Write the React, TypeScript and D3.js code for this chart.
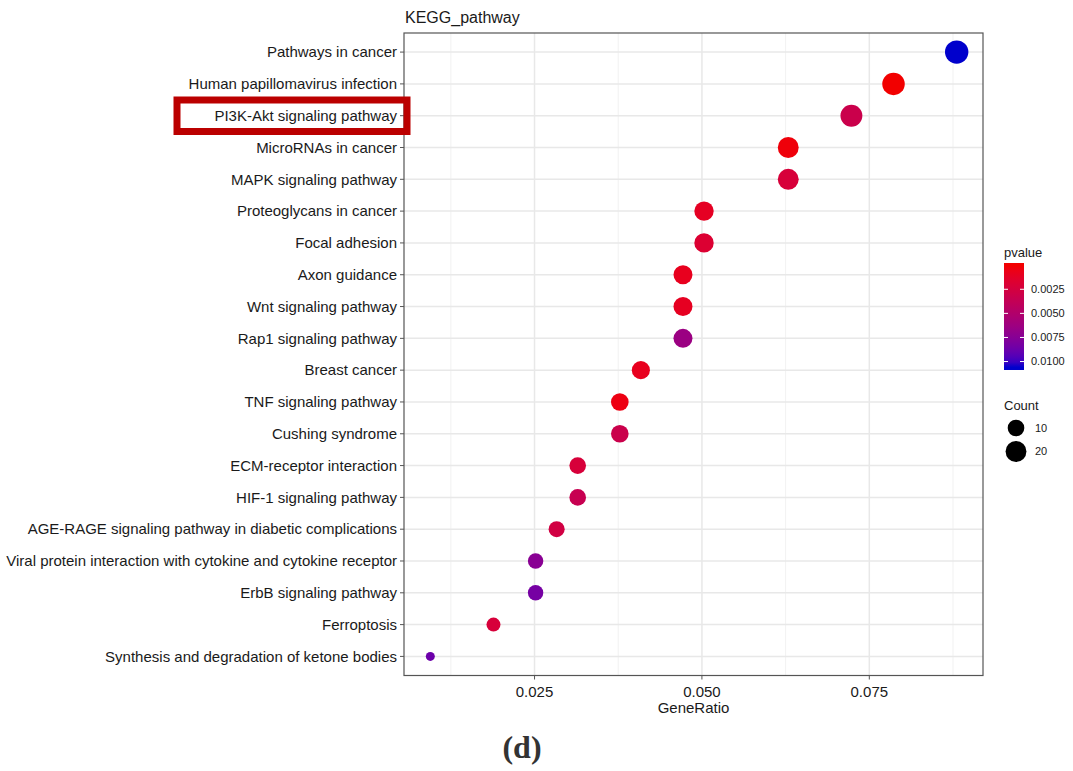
import React from 'react';
import * as d3 from 'd3';

// KEGG enrichment results (top to bottom as drawn)
const pathways = [
  'Pathways in cancer',
  'Human papillomavirus infection',
  'PI3K-Akt signaling pathway',
  'MicroRNAs in cancer',
  'MAPK signaling pathway',
  'Proteoglycans in cancer',
  'Focal adhesion',
  'Axon guidance',
  'Wnt signaling pathway',
  'Rap1 signaling pathway',
  'Breast cancer',
  'TNF signaling pathway',
  'Cushing syndrome',
  'ECM-receptor interaction',
  'HIF-1 signaling pathway',
  'AGE-RAGE signaling pathway in diabetic complications',
  'Viral protein interaction with cytokine and cytokine receptor',
  'ErbB signaling pathway',
  'Ferroptosis',
  'Synthesis and degradation of ketone bodies',
];
const counts = [28, 25, 23, 20, 20, 16, 16, 15, 15, 15, 13, 12, 12, 10, 10, 9, 8, 8, 6, 3];
const pvalues = [
  0.0106, 0.00005, 0.0032, 0.00026, 0.0022, 0.0011, 0.0018, 0.00089, 0.001, 0.0064,
  0.00089, 0.00047, 0.0032, 0.0022, 0.0035, 0.0027, 0.0074, 0.0083, 0.0022, 0.0087,
];
const totalGenes = 318;

const xTicks = [0.025, 0.05, 0.075];
const xMinorTicks = [0.0125, 0.0375, 0.0625, 0.0875];
const pTicks = [0.0025, 0.005, 0.0075, 0.01];
const countBreaks = [10, 20];

const W = 1073;
const H = 771;
const panel = { left: 404, right: 983, top: 33, bottom: 675.5 };

const App = () => {
  const ratios = counts.map(c => c / totalGenes);
  const [rMin, rMax] = d3.extent(ratios) as [number, number];
  const pad = (rMax - rMin) * 0.05;

  const x = d3.scaleLinear().domain([rMin - pad, rMax + pad]).range([panel.left, panel.right]);
  const y = d3.scalePoint<string>().domain(pathways).range([panel.top, panel.bottom]).padding(0.6);

  const [cMin, cMax] = d3.extent(counts) as [number, number];
  const sizeArea = d3.scaleLinear().domain([0, 1]).range([4.5, 11.7]);
  const radius = (c: number) => sizeArea(Math.sqrt((c - cMin) / (cMax - cMin)));

  const [pMin, pMax] = d3.extent(pvalues) as [number, number];
  const color = d3.scaleLinear<string>()
    .domain([pMin, pMax])
    .range(['#f20000', '#0000cc'])
    .interpolate(d3.interpolateLab);

  // colour bar
  const bar = { x: 1004, w: 20, top: 263, bottom: 370 };
  const half = (bar.bottom - bar.top) / 40;
  const yBar = d3.scaleLinear().domain([pMin, pMax]).range([bar.top + half, bar.bottom - half]);
  const stops = d3.range(0, 21).map(i => {
    const p = pMin + (pMax - pMin) * i / 20;
    return { offset: (yBar(p) - bar.top) / (bar.bottom - bar.top), color: color(p) };
  });

  const font = '"Liberation Sans", Arial, Helvetica, sans-serif';
  const textColor = '#1a1a1a';

  return (
    <div style={{ position: 'absolute', left: 0, top: 0 }}>
      <svg width={W} height={H} style={{ display: 'block', fontFamily: font }}>
        <rect width={W} height={H} fill="white" />
        <defs>
          <linearGradient id="pgrad" x1="0" y1="0" x2="0" y2="1">
            {stops.map((s, i) => (
              <stop key={i} offset={s.offset} stopColor={s.color} />
            ))}
          </linearGradient>
        </defs>

        {/* panel grid */}
        {xMinorTicks.map(t => (
          <line key={'mn' + t} x1={x(t)} x2={x(t)} y1={panel.top} y2={panel.bottom}
            stroke="#ededed" strokeWidth={0.8} />
        ))}
        {xTicks.map(t => (
          <line key={'mj' + t} x1={x(t)} x2={x(t)} y1={panel.top} y2={panel.bottom}
            stroke="#e8e8e8" strokeWidth={1.5} />
        ))}
        {pathways.map(p => (
          <line key={'gy' + p} x1={panel.left} x2={panel.right} y1={y(p)} y2={y(p)}
            stroke="#e8e8e8" strokeWidth={1.5} />
        ))}

        {/* points */}
        {pathways.map((p, i) => (
          <circle key={'pt' + p} cx={x(ratios[i])} cy={y(p)} r={radius(counts[i])}
            fill={color(pvalues[i])} />
        ))}

        <rect x={panel.left} y={panel.top} width={panel.right - panel.left}
          height={panel.bottom - panel.top} fill="none" stroke="#555" strokeWidth={1.2} />

        {/* y axis */}
        {pathways.map(p => (
          <g key={'yl' + p}>
            <line x1={panel.left - 4} x2={panel.left} y1={y(p)} y2={y(p)} stroke="#555" strokeWidth={1} />
            <text x={panel.left - 7} y={y(p)} dy="0.35em" textAnchor="end" fontSize={15} fill={textColor}>{p}</text>
          </g>
        ))}

        {/* x axis */}
        {xTicks.map(t => (
          <g key={'xl' + t}>
            <line x1={x(t)} x2={x(t)} y1={panel.bottom} y2={panel.bottom + 4} stroke="#555" strokeWidth={1} />
            <text x={x(t)} y={panel.bottom + 21} textAnchor="middle" fontSize={15} fill={textColor}>
              {d3.format('.3f')(t)}
            </text>
          </g>
        ))}
        <text x={(panel.left + panel.right) / 2} y={713} textAnchor="middle" fontSize={15} fill={textColor}>GeneRatio</text>

        {/* title */}
        <text x={panel.left + 1} y={23} fontSize={16} fill={textColor}>KEGG_pathway</text>

        {/* highlight box */}
        <rect x={177} y={100} width={230} height={31.5} fill="none" stroke="#bb0000" strokeWidth={7} />

        {/* pvalue legend */}
        <text x={bar.x} y={257} fontSize={13} fill={textColor}>pvalue</text>
        <rect x={bar.x} y={bar.top} width={bar.w} height={bar.bottom - bar.top} fill="url(#pgrad)" />
        {pTicks.map(t => (
          <g key={'pt' + t}>
            <line x1={bar.x} x2={bar.x + 4} y1={yBar(t)} y2={yBar(t)} stroke="white" strokeWidth={1} />
            <line x1={bar.x + bar.w - 4} x2={bar.x + bar.w} y1={yBar(t)} y2={yBar(t)} stroke="white" strokeWidth={1} />
            <text x={bar.x + bar.w + 7} y={yBar(t)} dy="0.35em" fontSize={11} fill={textColor}>
              {d3.format('.4f')(t)}
            </text>
          </g>
        ))}

        {/* count legend */}
        <text x={bar.x} y={410} fontSize={13} fill={textColor}>Count</text>
        {countBreaks.map((c, i) => (
          <g key={'cb' + c}>
            <circle cx={1016} cy={428 + i * 23.5} r={radius(c)} fill="black" />
            <text x={1035} y={428 + i * 23.5} dy="0.35em" fontSize={11} fill={textColor}>{c}</text>
          </g>
        ))}

        {/* panel tag */}
        <text x={522} y={758} textAnchor="middle" fontSize={32} fontWeight="bold"
          fontFamily='"Liberation Serif", "Times New Roman", serif' fill="#333">(d)</text>
      </svg>
    </div>
  );
};

export default App;
